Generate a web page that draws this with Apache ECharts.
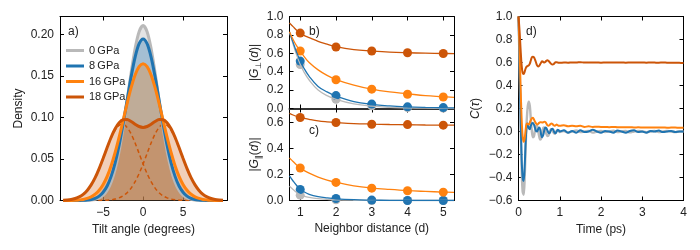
<!DOCTYPE html>
<html><head><meta charset="utf-8">
<script src="https://cdn.jsdelivr.net/npm/echarts@6/dist/echarts.min.js"></script>
<style>html,body{margin:0;padding:0;background:#fff}#c{width:700px;height:250px}</style>
</head><body><div id="c"></div>
<script>
// ---------- data ----------
const pressures = ['0\u2009GPa', '8\u2009GPa', '16\u2009GPa', '18\u2009GPa'];

// panel a: tilt-angle densities
const tiltX = [-10,-9.5,-9,-8.5,-8,-7.5,-7,-6.5,-6,-5.5,-5,-4.5,-4,-3.5,-3,-2.5,-2,-1.5,-1,-0.5,0,0.5,1,1.5,2,2.5,3,3.5,4,4.5,5,5.5,6,6.5,7,7.5,8,8.5,9,9.5,10];
const dens0 = [0,0,0,0,0,0.0001,0.0002,0.0006,0.0014,0.0031,0.0064,0.0124,0.0225,0.0380,0.0599,0.0880,0.1205,0.1540,0.1834,0.2037,0.211,0.2037,0.1834,0.1540,0.1205,0.0880,0.0599,0.0380,0.0225,0.0124,0.0064,0.0031,0.0014,0.0006,0.0002,0.0001,0,0,0,0,0];
const dens8 = [0,0,0,0,0.0001,0.0002,0.0006,0.0013,0.0027,0.0053,0.0100,0.0175,0.0291,0.0454,0.0668,0.0927,0.1211,0.1492,0.1731,0.1893,0.195,0.1893,0.1731,0.1492,0.1211,0.0927,0.0668,0.0454,0.0291,0.0175,0.0100,0.0053,0.0027,0.0013,0.0006,0.0002,0.0001,0,0,0,0];
const dens16 = [0,0,0.0001,0.0003,0.0007,0.0013,0.0025,0.0044,0.0076,0.0124,0.0194,0.0292,0.0420,0.0579,0.0764,0.0967,0.1172,0.1361,0.1515,0.1615,0.165,0.1615,0.1515,0.1361,0.1172,0.0967,0.0764,0.0579,0.0420,0.0292,0.0194,0.0124,0.0076,0.0044,0.0025,0.0013,0.0007,0.0003,0.0001,0,0];
const dens18 = [0.0003,0.0006,0.0012,0.0024,0.0043,0.0074,0.0121,0.0188,0.0275,0.0385,0.0509,0.0639,0.0763,0.0866,0.0939,0.0974,0.0976,0.0953,0.0921,0.0893,0.0882,0.0893,0.0921,0.0953,0.0976,0.0974,0.0939,0.0866,0.0763,0.0639,0.0509,0.0385,0.0275,0.0188,0.0121,0.0074,0.0043,0.0024,0.0012,0.0006,0.0003];
const gauss18L = [0.0003,0.0006,0.0012,0.0024,0.0043,0.0074,0.0121,0.0188,0.0275,0.0384,0.0507,0.0635,0.0754,0.0849,0.0907,0.0918,0.0882,0.0803,0.0694,0.0568,0.0441,0.0325,0.0227,0.0150,0.0094,0.0056,0.0032,0.0017,0.0009,0.0004,0.0002,0.0001,0,0,0,0,0,0,0,0,0];
const gauss18R = [0,0,0,0,0,0,0,0,0,0.0001,0.0002,0.0004,0.0009,0.0017,0.0032,0.0056,0.0094,0.0150,0.0227,0.0325,0.0441,0.0568,0.0694,0.0803,0.0882,0.0918,0.0907,0.0849,0.0754,0.0635,0.0507,0.0384,0.0275,0.0188,0.0121,0.0074,0.0043,0.0024,0.0012,0.0006,0.0003];

// panels b, c: neighbour correlations
const nbD = [1, 2, 3, 4, 5];
const perp0 = [0.478, 0.10, 0.03, 0.01, 0.004];
const perp8 = [0.515, 0.14, 0.048, 0.018, 0.01];
const perp16 = [0.625, 0.313, 0.21, 0.155, 0.125];
const perp18 = [0.82, 0.668, 0.625, 0.606, 0.598];
const para0 = [0.041, 0.005, 0.0, 0.0, 0.0];
const para8 = [0.085, 0.015, 0.003, 0.0, 0.0];
const para16 = [0.25, 0.139, 0.095, 0.075, 0.064];
const para18 = [0.639, 0.600, 0.587, 0.584, 0.580];
const fitX = [0.7,0.8,0.9,1.0,1.1,1.25,1.5,1.75,2.0,2.5,3.0,3.5,4.0,4.5,5.0,5.3];
const perpFit0 = [0.83,0.70,0.58,0.48,0.40,0.31,0.20,0.14,0.10,0.05,0.025,0.012,0.006,0.003,0.001,0.0];
const perpFit8 = [0.83,0.72,0.61,0.52,0.44,0.35,0.24,0.18,0.135,0.075,0.045,0.028,0.018,0.012,0.008,0.006];
const perpFit16 = [0.835,0.75,0.68,0.625,0.57,0.50,0.42,0.36,0.315,0.255,0.21,0.18,0.16,0.14,0.128,0.12];
const perpFit18 = [0.93,0.89,0.85,0.82,0.795,0.77,0.73,0.70,0.672,0.64,0.625,0.613,0.606,0.601,0.598,0.597];
const paraFit0 = [0.11,0.085,0.062,0.045,0.034,0.024,0.014,0.009,0.005,0.002,0.001,0,0,0,0,0];
const paraFit8 = [0.19,0.15,0.115,0.088,0.068,0.048,0.03,0.02,0.013,0.006,0.003,0.001,0,0,0,0];
const paraFit16 = [0.327,0.30,0.273,0.25,0.232,0.21,0.18,0.157,0.14,0.113,0.096,0.085,0.076,0.07,0.065,0.062];
const paraFit18 = [0.67,0.658,0.648,0.64,0.633,0.624,0.612,0.605,0.60,0.592,0.588,0.585,0.583,0.581,0.58,0.58];

// panel d: time autocorrelation
const timePs = [0,0.025,0.05,0.075,0.1,0.125,0.15,0.175,0.2,0.225,0.25,0.275,0.3,0.325,0.35,0.375,0.4,0.425,0.45,0.475,0.5,0.525,0.55,0.575,0.6,0.625,0.65,0.675,0.7,0.725,0.75,0.775,0.8,0.825,0.85,0.875,0.9,0.925,0.95,0.975,1.0,1.1,1.2,1.3,1.4,1.5,1.6,1.7,1.8,1.9,2.0,2.1,2.2,2.3,2.4,2.5,2.6,2.7,2.8,2.9,3.0,3.1,3.2,3.3,3.4,3.5,3.6,3.7,3.8,3.9,4.0];
const corr0 = [1.0,0.60,0.10,-0.30,-0.52,-0.55,-0.40,-0.12,0.10,0.22,0.26,0.22,0.10,0.0,-0.05,-0.04,0.01,0.05,0.05,0.01,-0.04,-0.07,-0.06,-0.01,0.03,0.035,0.01,-0.02,-0.04,-0.035,-0.01,0.015,0.02,0.01,-0.01,-0.02,-0.01,0.005,0.01,0.005,-0.005,
  0.005,-0.01,0.0,0.01,-0.005,0.0,0.005,-0.01,0.0,0.005,-0.005,0.0,0.008,-0.005,0.0,0.005,-0.008,0.0,0.005,0.0,-0.005,0.0,0.005,-0.005,0.0,0.005,0.0,-0.005,0.0,0.0];
const corr8 = [1.0,0.62,0.15,-0.22,-0.40,-0.43,-0.30,-0.08,0.05,0.07,0.03,0.02,0.05,0.07,0.075,0.06,0.03,0.005,0.0,0.02,0.035,0.02,-0.03,-0.05,-0.03,0.01,0.035,0.03,0.01,-0.01,-0.015,0.0,0.02,0.025,0.01,-0.01,-0.015,0.0,0.015,0.01,0.0,
  0.01,-0.01,0.005,-0.01,0.01,-0.005,0.0,0.015,0.0,-0.01,0.005,0.0,-0.01,0.008,0.0,-0.01,0.005,0.01,-0.005,0.0,-0.01,0.005,0.0,0.008,-0.005,0.0,0.005,-0.005,0.0,0.0];
const corr16 = [1.0,0.72,0.40,0.12,-0.04,-0.09,-0.06,0.02,0.07,0.065,0.06,0.08,0.10,0.115,0.12,0.105,0.085,0.07,0.06,0.065,0.075,0.08,0.08,0.078,0.08,0.085,0.082,0.07,0.055,0.05,0.055,0.065,0.07,0.065,0.055,0.05,0.055,0.06,0.055,0.05,0.05,
  0.055,0.045,0.05,0.045,0.05,0.04,0.045,0.04,0.042,0.04,0.04,0.038,0.04,0.037,0.038,0.036,0.037,0.035,0.036,0.035,0.034,0.035,0.034,0.034,0.035,0.033,0.034,0.034,0.033,0.033];
const corr18 = [1.0,0.88,0.72,0.58,0.51,0.50,0.52,0.55,0.565,0.57,0.575,0.59,0.62,0.645,0.65,0.645,0.625,0.60,0.575,0.565,0.57,0.585,0.60,0.61,0.605,0.60,0.605,0.615,0.62,0.615,0.605,0.595,0.585,0.583,0.585,0.595,0.602,0.603,0.60,0.597,0.597,
  0.60,0.598,0.601,0.60,0.603,0.599,0.60,0.601,0.60,0.598,0.60,0.601,0.599,0.60,0.60,0.598,0.60,0.601,0.599,0.60,0.598,0.60,0.599,0.598,0.60,0.598,0.597,0.598,0.597,0.596];

// tick labels
const tiltTicks = [-5, 0, 5];
const densTicks = [0, 0.05, 0.10, 0.15, 0.20];
const nbTicks = [1, 2, 3, 4, 5];
const perpTicks = [0, 0.2, 0.4, 0.6, 0.8, 1.0];
const paraTicks = [0, 0.2, 0.4, 0.6];
const timeTicks = [0, 1, 2, 3, 4];
const timeAxisLabels = [0, 2, 4];
const timeExtraLabels = [1, 3];
const corrTicks = [-0.6, -0.4, -0.2, 0, 0.2, 0.4, 0.6, 0.8, 1.0];

// ---------- styles ----------
const FONT = '"Liberation Sans", Arial, "DejaVu Sans", sans-serif';
const COLORS = ['#b9b9b9', '#1f74b1', '#ff820f', '#cc5508'];
const zip = (xs, ys) => xs.map((x, i) => [x, ys[i]]);
const fmtNum = (d) => (v) => (v < -1e-9 ? '\u2212' : '') + Math.abs(v).toFixed(d);

function axis(o) {
  const a = {
    type: 'value', gridIndex: o.grid, position: o.pos, min: o.min, max: o.max,
    axisLine: { show: true, onZero: false, lineStyle: { color: o.lineColor || '#000', width: o.lineWidth || 1 } },
    axisTick: { show: true, inside: true, length: 4, lineStyle: { color: '#000', width: 1 }, customValues: o.ticks },
    axisLabel: { show: !!o.labels, color: '#222', fontSize: 12, fontFamily: FONT, margin: 6,
                 formatter: o.fmt, customValues: o.labelValues || o.ticks },
    splitLine: { show: false }
  };
  if (o.name) {
    a.name = o.name; a.nameLocation = 'middle'; a.nameGap = o.gap;
    a.nameTextStyle = Object.assign({ color: '#222', fontSize: 12, fontFamily: FONT }, o.nameStyle || {});
  }
  return a;
}
const richName = {
  n: { fontSize: 12, fontFamily: FONT, color: '#222', lineHeight: 16 },
  i: { fontSize: 12, fontFamily: FONT, color: '#222', fontStyle: 'italic', lineHeight: 16 },
  s: { fontSize: 8, fontFamily: '"DejaVu Sans", sans-serif', color: '#222', lineHeight: 8, verticalAlign: 'bottom' }
};

const grid = [
  { left: 60, top: 16.5, width: 167, height: 184 },
  { left: 289.5, top: 16.5, width: 164.5, height: 92 },
  { left: 289.5, top: 108.5, width: 164.5, height: 92 },
  { left: 518.5, top: 16.5, width: 165, height: 184 }
];

const xAxis = [
  axis({ grid: 0, pos: 'bottom', min: -10.4, max: 10.5, ticks: tiltTicks, labels: true, fmt: fmtNum(0), name: 'Tilt angle (degrees)', gap: 22 }),
  axis({ grid: 0, pos: 'top', min: -10.4, max: 10.5, ticks: tiltTicks }),
  axis({ grid: 1, pos: 'bottom', min: 0.7, max: 5.3, ticks: nbTicks, lineColor: '#333', lineWidth: 2 }),
  axis({ grid: 1, pos: 'top', min: 0.7, max: 5.3, ticks: nbTicks }),
  axis({ grid: 2, pos: 'bottom', min: 0.7, max: 5.3, ticks: nbTicks, labels: true, fmt: fmtNum(0), name: 'Neighbor distance (d)', gap: 22 }),
  axis({ grid: 2, pos: 'top', min: 0.7, max: 5.3, ticks: nbTicks, lineColor: '#333' }),
  axis({ grid: 3, pos: 'bottom', min: 0, max: 4, ticks: timeTicks, labelValues: timeAxisLabels, labels: true, fmt: fmtNum(0), name: 'Time (ps)', gap: 22 }),
  axis({ grid: 3, pos: 'top', min: 0, max: 4, ticks: timeTicks })
];
const yAxis = [
  axis({ grid: 0, pos: 'left', min: 0, max: 0.222, ticks: densTicks, labels: true, fmt: fmtNum(2), name: 'Density', gap: 35 }),
  axis({ grid: 0, pos: 'right', min: 0, max: 0.222, ticks: densTicks }),
  axis({ grid: 1, pos: 'left', min: 0, max: 1.0, ticks: perpTicks, labels: true, fmt: fmtNum(1),
         name: '{n||}{i|G}{s|\u22A5}{n|(}{i|d}{n|)|}', gap: 25, nameStyle: { rich: richName } }),
  axis({ grid: 1, pos: 'right', min: 0, max: 1.0, ticks: perpTicks }),
  axis({ grid: 2, pos: 'left', min: 0, max: 0.708, ticks: paraTicks, labels: true, fmt: fmtNum(1),
         name: '{n||}{i|G}{s|\u2225}{n|(}{i|d}{n|)|}', gap: 25, nameStyle: { rich: richName } }),
  axis({ grid: 2, pos: 'right', min: 0, max: 0.708, ticks: paraTicks }),
  axis({ grid: 3, pos: 'left', min: -0.6, max: 1.0, ticks: corrTicks, labels: true, fmt: fmtNum(1),
         name: '{i|C}{n|(}{i|\u03C4}{n|)}', gap: 35, nameStyle: { rich: richName } }),
  axis({ grid: 3, pos: 'right', min: -0.6, max: 1.0, ticks: corrTicks })
];

const series = [];
const densArr = [dens0, dens8, dens16, dens18];
const areaOp = [0.38, 0.32, 0.3, 0.28];
densArr.forEach((d, k) => series.push({
  type: 'line', xAxisIndex: 0, yAxisIndex: 0, data: zip(tiltX, d), smooth: 0.3, showSymbol: false, silent: true,
  lineStyle: { width: 0 }, areaStyle: { color: COLORS[k], opacity: areaOp[k] }
}));
[gauss18L, gauss18R].forEach(d => series.push({
  type: 'line', xAxisIndex: 0, yAxisIndex: 0, data: zip(tiltX, d), smooth: 0.3, showSymbol: false, silent: true,
  lineStyle: { width: 1.5, type: [4, 3], color: COLORS[3] }
}));
densArr.forEach((d, k) => series.push({
  name: pressures[k], type: 'line', xAxisIndex: 0, yAxisIndex: 0, data: zip(tiltX, d), smooth: 0.3,
  showSymbol: false, silent: true, color: COLORS[k], lineStyle: { width: 3, color: COLORS[k] }
}));

const perpFits = [perpFit0, perpFit8, perpFit16, perpFit18];
const perpPts = [perp0, perp8, perp16, perp18];
const paraFits = [paraFit0, paraFit8, paraFit16, paraFit18];
const paraPts = [para0, para8, para16, para18];
[[perpFits, perpPts, 2], [paraFits, paraPts, 4]].forEach(([fits, pts, ax]) => {
  for (let k = 0; k < 4; k++) {
    series.push({ type: 'line', xAxisIndex: ax, yAxisIndex: ax, data: zip(fitX, fits[k]), smooth: 0.4,
      showSymbol: false, silent: true, lineStyle: { width: 1.3, color: COLORS[k] } });
    series.push({ type: 'scatter', xAxisIndex: ax, yAxisIndex: ax, data: zip(nbD, pts[k]), symbolSize: 9,
      clip: true, silent: true, itemStyle: { color: COLORS[k], opacity: 1 } });
  }
});

const corrArr = [corr0, corr8, corr16, corr18];
corrArr.forEach((d, k) => series.push({
  type: 'line', xAxisIndex: 6, yAxisIndex: 6, data: zip(timePs, d), smooth: 0.35, showSymbol: false, silent: true,
  lineStyle: { width: k === 0 ? 2.4 : 2, color: COLORS[k] }
}));

const panelLabel = (txt, x, y) => ({ type: 'text', left: x, top: y, z: 100, style: { text: txt, fontSize: 12, fontFamily: FONT, fill: '#222' } });
const panelLabels = [panelLabel('a)', 68, 26), panelLabel('b)', 309, 26), panelLabel('c)', 309, 125), panelLabel('d)', 526, 26)];

const option = {
  animation: false,
  backgroundColor: '#fff',
  grid, xAxis, yAxis, series,
  legend: {
    data: pressures, orient: 'vertical', left: 66, top: 45, icon: 'rect', itemWidth: 18, itemHeight: 3,
    itemGap: 4.5, padding: 0, selectedMode: false,
    textStyle: { fontSize: 11, fontFamily: FONT, color: '#222', lineHeight: 11 }
  },
  graphic: { elements: panelLabels }
};
const chart = echarts.init(document.getElementById('c'), null, { renderer: 'canvas' });
chart.setOption(option);

// the remaining time-axis tick labels, placed through the axis scale of panel d
const baseY = chart.convertToPixel({ yAxisIndex: 6 }, -0.6);
const extra = timeExtraLabels.map(v => ({
  type: 'text', z: 100,
  x: chart.convertToPixel({ xAxisIndex: 6 }, v), y: baseY + 6,
  style: { text: fmtNum(0)(v), fontSize: 12, fontFamily: FONT, fill: '#222',
           align: 'center', verticalAlign: 'top', textAlign: 'center', textVerticalAlign: 'top' }
}));
chart.setOption({ graphic: { elements: panelLabels.concat(extra) } });
</script>
</body></html>
